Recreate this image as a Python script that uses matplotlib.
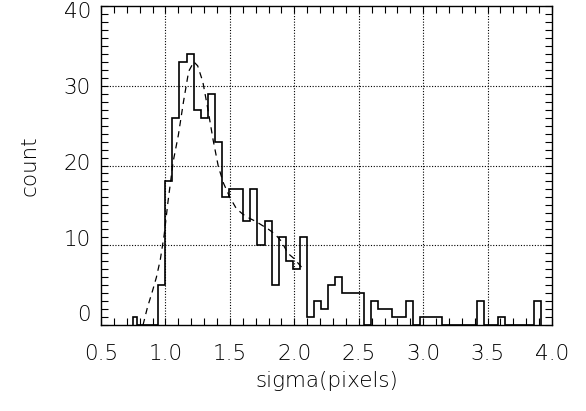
import numpy as np
import matplotlib
matplotlib.use('Agg')
import matplotlib.pyplot as plt
from matplotlib.ticker import MultipleLocator

# histogram: first bin starts at 0.7515, then bins of 0.055 from 0.779
first_edge = 0.7515
bin_start = 0.779
bin_width = 0.055
counts = [1, 0, 0, 0, 5, 18, 26, 33, 34, 27, 26, 29, 23, 16, 17, 17, 13, 17,
          10, 13, 5, 11, 8, 7, 11, 1, 3, 2, 5, 6, 4, 4, 4, 0, 3, 2, 2, 1, 1,
          3, 0, 1, 1, 1, 0, 0, 0, 0, 0, 3, 0, 0, 1, 0, 0, 0, 0, 3]

# dashed fit curve
fit_x = [0.826, 0.86, 0.90, 0.93, 0.96, 0.99, 1.02, 1.06, 1.10, 1.14, 1.18,
         1.22, 1.25, 1.29, 1.33, 1.37, 1.41, 1.45, 1.50, 1.55, 1.60, 1.65,
         1.70, 1.75, 1.80, 1.85, 1.90, 1.95, 2.00, 2.07]
fit_y = [0, 2.2, 4.3, 6.0, 8.2, 11.3, 15.5, 20.5, 23.8, 28.0, 31.8,
         33.0, 32.5, 30.5, 27.0, 23.2, 19.9, 17.8, 16.0, 14.6, 13.9, 13.4,
         13.0, 12.5, 12.0, 11.4, 10.5, 9.0, 8.3, 7.0]

xticks = [0.5, 1.0, 1.5, 2.0, 2.5, 3.0, 3.5, 4.0]
xticklabels = ['0.5', '1.0', '1.5', '2.0', '2.5', '3.0', '3.5', '4.0']
yticks = [0, 10, 20, 30, 40]

plt.rcParams['font.family'] = ['DejaVu Sans']
fs = 15.5

fig = plt.figure(figsize=(5.86, 4.11), dpi=100)
ax = fig.add_axes([0.1724, 0.2092, 0.7696, 0.7762])

edges = [first_edge] + [bin_start + i * bin_width for i in range(len(counts))]
ax.stairs(counts, edges, color='black', linewidth=1.2, baseline=0)
ax.plot(fit_x, fit_y, color='black', linewidth=0.9, linestyle=(0, (5, 4)))

ax.set_xlim(0.5, 4.0)
ax.set_ylim(0, 40)

# dotted grid at inner major ticks
for xv in xticks[1:-1]:
    ax.axvline(xv, color='black', linewidth=0.8, linestyle=(0, (1, 1.5)), zorder=0)
for yv in yticks[1:-1]:
    ax.axhline(yv, color='black', linewidth=0.8, linestyle=(0, (1, 1.5)), zorder=0)

ax.xaxis.set_major_locator(MultipleLocator(0.5))
ax.xaxis.set_minor_locator(MultipleLocator(0.1))
ax.yaxis.set_major_locator(MultipleLocator(10))
ax.yaxis.set_minor_locator(MultipleLocator(1))
ax.tick_params(which='both', direction='in', top=True, right=True,
               length=5, width=0.8, labelleft=False)
ax.set_xticks(xticks)
ax.set_xticklabels(xticklabels, fontsize=fs, fontweight='light')
ax.tick_params(axis='x', pad=14)

# y labels: IDL spreads them a little inside the tick range
for v in yticks:
    ax.text(-0.022, v * 0.95 + 1.2, str(v), transform=ax.get_yaxis_transform(),
            ha='right', va='center', fontsize=fs, fontweight='light')

for s in ax.spines.values():
    s.set_linewidth(1.0)

ax.set_xlabel('sigma(pixels)', fontsize=fs, fontweight='light', labelpad=5)
ax.set_ylabel('count', fontsize=fs, fontweight='light', labelpad=44)

fig.savefig('out.png', dpi=100)
